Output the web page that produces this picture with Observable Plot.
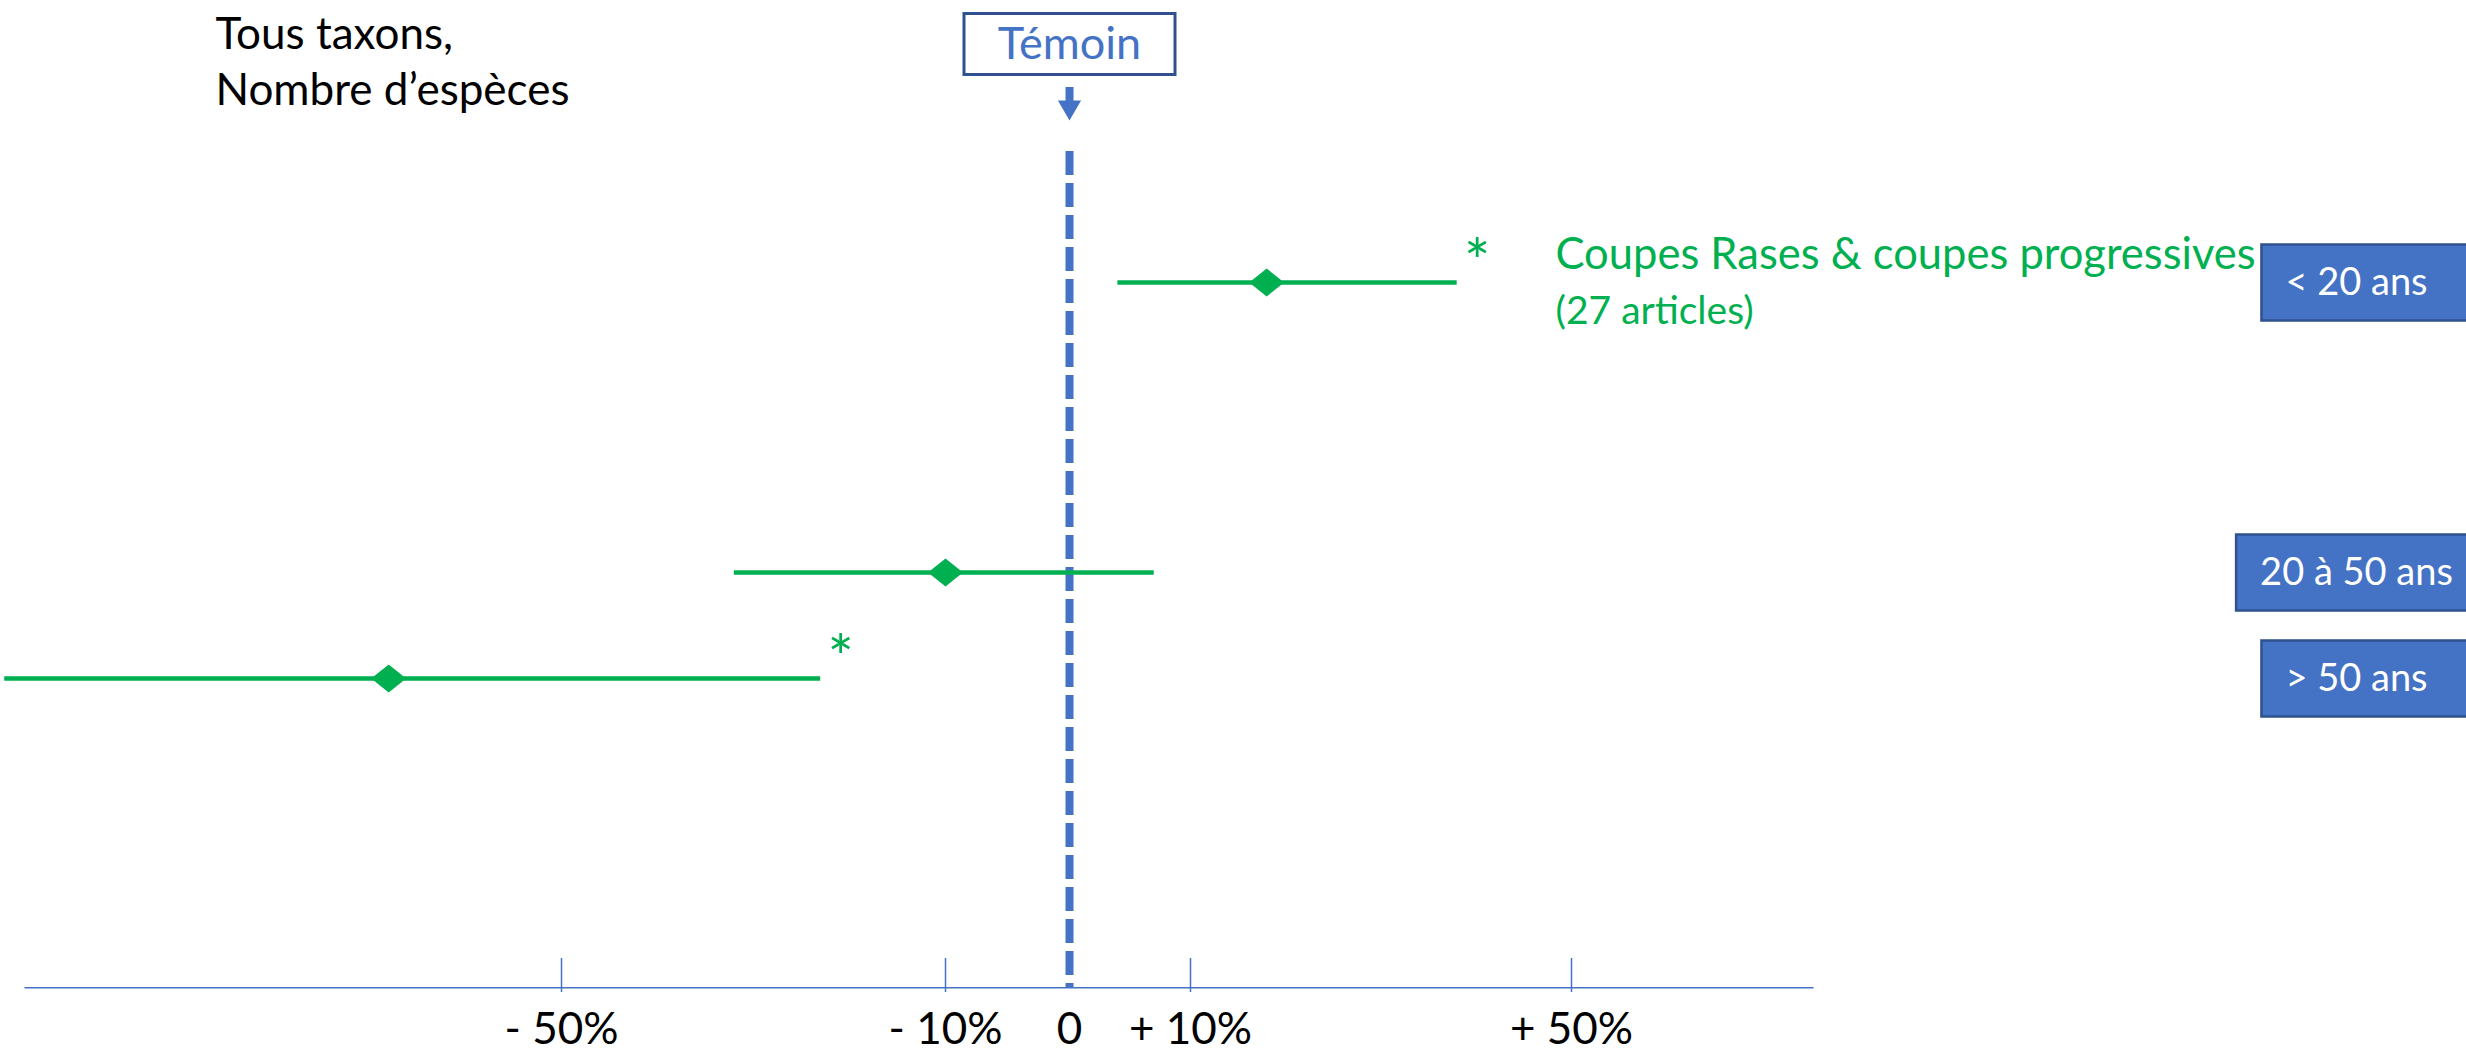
<!DOCTYPE html>
<html><head><meta charset="utf-8">
<script src="https://cdn.jsdelivr.net/npm/d3@7"></script>
<script src="https://cdn.jsdelivr.net/npm/@observablehq/plot@0.6"></script>
<style>
html,body{margin:0;padding:0;background:#fff;}
#chart{position:relative;width:2466px;height:1054px;overflow:hidden;}
</style></head><body><div id="chart"></div>
<script>
// ---- data ----
const categories = ["< 20 ans", "20 à 50 ans", "> 50 ans"];
const estimate = [18, -10, -68];
const lower = [4, -32, -108];
const upper = [38, 7, -23];
const significant = [true, false, true];
const tickValues = [-50, -10, 0, 10, 50];
const tickLabels = ["- 50%", "- 10%", "0", "+ 10%", "+ 50%"];
const titleLines = ["Tous taxons,", "Nombre d’espèces"];
const seriesLabel = "Coupes Rases & coupes progressives";
const seriesNote = "(27 articles)";
const controlLabel = "Témoin";

// ---- styles ----
const BLUE = "#4472C4", DARKBLUE = "#2F528F", GREEN = "#00B050";
const FONT = "Lato, 'Open Sans', sans-serif";

const rows = categories.map((c, i) => ({category: c, idx: i, est: estimate[i], lo: lower[i], hi: upper[i], sig: significant[i]}));

const diamond = {
  draw(ctx, size) {
    const a = Math.sqrt(size / Math.PI), b = a * 0.8;
    ctx.moveTo(-a, 0); ctx.lineTo(0, -b); ctx.lineTo(a, 0); ctx.lineTo(0, b); ctx.closePath();
  }
};

const W = 2466, H = 1054, AXIS_Y = 988;

const plot = Plot.plot({
  width: W, height: H,
  marginTop: 0, marginLeft: 0, marginRight: 0, marginBottom: H - AXIS_Y,
  style: {fontFamily: FONT, background: "white", overflow: "visible"},
  x: {type: "linear", domain: tickValues, range: [561, 945, 1069, 1190, 1571], axis: null},
  y: {type: "linear", domain: [0, 1, 2], range: [282, 572, 678], axis: null},
  marks: [
    // axis baseline
    Plot.frame({fill: BLUE, stroke: "none", insetTop: AXIS_Y - 1.5, insetLeft: 24, insetRight: W - 1813}),
    // tick marks
    Plot.ruleX(tickValues.filter(v => v !== 0), {x: d => d, stroke: BLUE, strokeWidth: 1.5, insetTop: 958, insetBottom: -4}),
    // tick labels
    Plot.text(tickValues, {x: d => d, text: (d, i) => tickLabels[i], frameAnchor: "bottom", lineAnchor: "middle", textAnchor: "middle", dy: 41, fontSize: 44, fill: "black"}),
    // control reference (dashed zero line)
    Plot.ruleX([0], {x: d => d, stroke: BLUE, strokeWidth: 8, strokeDasharray: "24,8", insetTop: 151}),
    Plot.ruleX([0], {x: d => d, stroke: BLUE, strokeWidth: 8, insetTop: 87, insetBottom: AXIS_Y - 101}),
    Plot.dot([0], {x: d => d, frameAnchor: "top", dy: 106.7, symbol: "triangle", r: 8.6, fill: BLUE, stroke: "none", rotate: 180}),
    Plot.text([controlLabel], {x: () => 0, frameAnchor: "top", lineAnchor: "middle", textAnchor: "middle", dy: 44, fill: BLUE, fontSize: 45}),
    // intervals
    Plot.ruleY(rows, {x1: "lo", x2: "hi", y: "idx", stroke: GREEN, strokeWidth: 4.5}),
    Plot.dot(rows, {x: "est", y: "idx", symbol: diamond, r: 17.5, fill: GREEN, stroke: "none"}),
    Plot.text(rows.filter(d => d.sig), {x: "hi", y: "idx", text: () => "*", dx: 20, dy: -18, fill: GREEN, fontSize: 62}),
    // series annotation
    Plot.text([seriesLabel], {frameAnchor: "top-left", lineAnchor: "middle", dx: 1555, dy: 255, textAnchor: "start", fill: GREEN, fontSize: 43.5}),
    Plot.text([seriesNote], {frameAnchor: "top-left", lineAnchor: "middle", dx: 1555, dy: 311, textAnchor: "start", fill: GREEN, fontSize: 39}),
    // title
    Plot.text([titleLines.join("\n")], {frameAnchor: "top-left", lineAnchor: "middle", dx: 215, dy: 59, textAnchor: "start", lineHeight: 1.27, fill: "black", fontSize: 44}),
    // category boxes
    Plot.text(rows, {y: "idx", text: "category", frameAnchor: "right", textAnchor: "middle", dx: -110, fill: "white", fontSize: 38})
  ]
});

document.getElementById("chart").appendChild(plot);

// boxes behind labels
const NS = "http://www.w3.org/2000/svg";
plot.querySelectorAll("text").forEach(t => {
  const s = t.textContent;
  if (s === controlLabel) {
    const r = document.createElementNS(NS, "rect");
    r.setAttribute("x", -105.5); r.setAttribute("y", -31);
    r.setAttribute("width", 211); r.setAttribute("height", 61);
    r.setAttribute("fill", "white"); r.setAttribute("stroke", DARKBLUE); r.setAttribute("stroke-width", 3);
    if (t.getAttribute("transform")) r.setAttribute("transform", t.getAttribute("transform"));
    t.parentNode.insertBefore(r, t);
  } else if (categories.includes(s)) {
    const bb = t.getBBox();
    const r = document.createElementNS(NS, "rect");
    r.setAttribute("x", bb.x - 24); r.setAttribute("y", -38);
    r.setAttribute("width", bb.width + 220); r.setAttribute("height", 76);
    r.setAttribute("fill", BLUE); r.setAttribute("stroke", DARKBLUE); r.setAttribute("stroke-width", 2.5);
    if (t.getAttribute("transform")) r.setAttribute("transform", t.getAttribute("transform"));
    t.parentNode.insertBefore(r, t);
  }
});
</script>
</body></html>
